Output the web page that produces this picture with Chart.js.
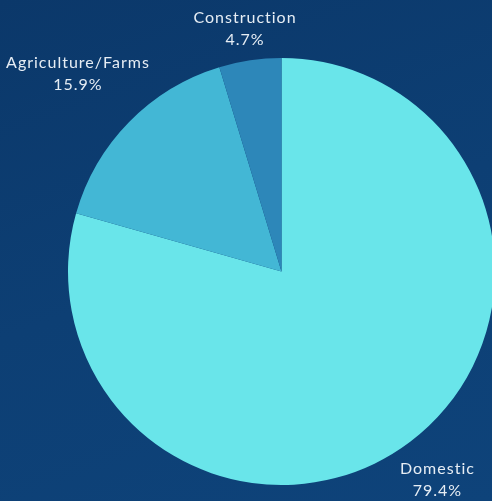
<!DOCTYPE html>
<html>
<head>
<meta charset="utf-8">
<script src="https://cdn.jsdelivr.net/npm/chart.js@4/dist/chart.umd.min.js"></script>
<style>
html,body{margin:0;padding:0;width:492px;height:501px;overflow:hidden;}
body{background:linear-gradient(160deg,#0b386a 0%,#0d3f74 50%,#0e437a 100%);position:relative;}
canvas{position:absolute;left:0;top:0;}
</style>
</head>
<body>
<canvas id="c" width="563" height="501"></canvas>
<script>
const categories = ["Domestic", "Agriculture/Farms", "Construction"];
const shares = [79.4, 15.9, 4.7];
const sliceColors = ["#69E5EA", "#43B7D5", "#2D87B9"];

const labelFont = '16px Lato, "Open Sans", sans-serif';
const lineH = 22;

const outsideLabels = {
  id: 'outsideLabels',
  afterDatasetsDraw(chart) {
    const ctx = chart.ctx;
    const meta = chart.getDatasetMeta(0);
    ctx.save();
    ctx.font = labelFont;
    if ('letterSpacing' in ctx) ctx.letterSpacing = '1px';
    ctx.fillStyle = '#e6edf4';
    ctx.textAlign = 'center';
    ctx.textBaseline = 'middle';
    meta.data.forEach((arc, i) => {
      const p = arc.getProps(['x','y','startAngle','endAngle','outerRadius'], true);
      const mid = (p.startAngle + p.endAngle) / 2;
      const c = Math.cos(mid), s = Math.sin(mid);
      const lines = [categories[i], shares[i].toFixed(1) + '%'];
      const w = Math.max(...lines.map(t => ctx.measureText(t).width));
      const h = lines.length * lineH;
      const d = p.outerRadius + 5 + Math.abs(c) * w / 2 + Math.abs(s) * h / 2;
      const cx = p.x + c * d, cy = p.y + s * d + 2;
      lines.forEach((t, k) => {
        ctx.fillText(t, cx, cy - h / 2 + lineH * (k + 0.5));
      });
    });
    ctx.restore();
  }
};

new Chart(document.getElementById('c'), {
  type: 'pie',
  data: {
    labels: categories,
    datasets: [{
      data: shares,
      backgroundColor: sliceColors,
      borderWidth: 0
    }]
  },
  options: {
    responsive: false,
    animation: false,
    layout: { padding: { left: 68, right: 68, top: 58, bottom: 16 } },
    plugins: { legend: { display: false }, tooltip: { enabled: false } }
  },
  plugins: [outsideLabels]
});
</script>
</body>
</html>
